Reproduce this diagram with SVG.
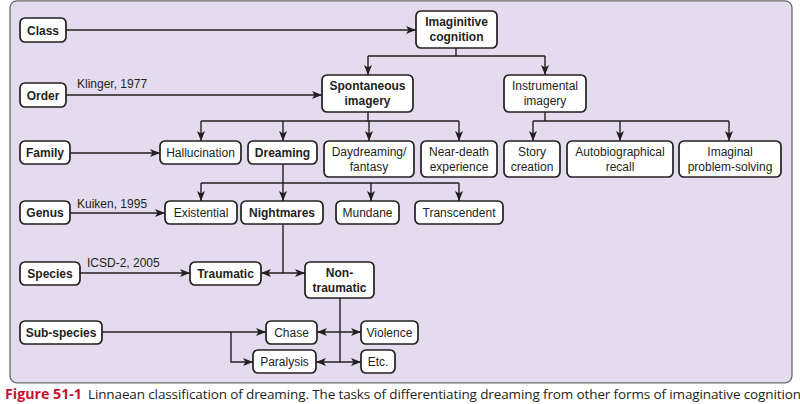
<svg xmlns="http://www.w3.org/2000/svg" width="800" height="404" viewBox="0 0 800 404">
<defs>
<marker id="ah" markerUnits="userSpaceOnUse" markerWidth="10" markerHeight="8" viewBox="0 0 10 8" refX="10" refY="4" orient="auto-start-reverse">
<path d="M0,0 L10,4 L0,8 L2.5,4 z" fill="#231f20"/>
</marker>
</defs>
<style>
.n rect{fill:#fff;stroke:#231f20;stroke-width:1.7}
text{font-family:"Liberation Sans",Arial,sans-serif;font-size:12px;fill:#231f20}
.n text{text-anchor:middle}
.b text{font-weight:bold}
.c path{fill:none;stroke:#231f20;stroke-width:1.4}
.a{marker-end:url(#ah)}
.d{marker-start:url(#ah);marker-end:url(#ah)}
.cap{font-family:"Open Sans","Noto Sans",sans-serif;font-size:13.5px}
</style>
<rect x="10" y="0.8" width="782" height="382" rx="7" fill="#e4dcee" stroke="#6b6b6b" stroke-width="1.3"/>

<g class="c" id="connectors">
<path class="a" d="M66,30 H416"/>
<path d="M456,48 V56 M368,56 H545"/>
<path class="a" d="M368,56 V75"/>
<path class="a" d="M545,56 V75"/>
<path class="a" d="M66,95 H322"/>
<path d="M368,112 V121 M201,121 H459"/>
<path class="a" d="M201,121 V141"/>
<path class="a" d="M283,121 V141"/>
<path class="a" d="M369,121 V141"/>
<path class="a" d="M459,121 V141"/>
<path d="M545,112 V121 M533,121 H729"/>
<path class="a" d="M533,121 V141"/>
<path class="a" d="M620,121 V141"/>
<path class="a" d="M729,121 V141"/>
<path class="a" d="M70,153 H160"/>
<path d="M201,183 H459"/>
<path class="a" d="M201,183 V201"/>
<path class="a" d="M283,164 V201"/>
<path class="a" d="M371,183 V201"/>
<path class="a" d="M459,183 V201"/>
<path class="a" d="M70,213 H165"/>
<path d="M283,224 V273"/>
<path class="d" d="M261,273 H305"/>
<path class="a" d="M80,273 H190"/>
<path d="M340,298 V362"/>
<path class="d" d="M317,332 H361"/>
<path class="d" d="M316,362 H361"/>
<path class="a" d="M102,332 H266"/>
<path class="a" d="M231,332 V362 H253"/>
</g>

<text x="77" y="88">Klinger, 1977</text>
<text x="77" y="208">Kuiken, 1995</text>
<text x="87" y="267">ICSD-2, 2005</text>

<g id="class" class="n b"><rect x="20" y="18" width="46" height="24" rx="5"/><text x="43" y="34.5">Class</text></g>
<g id="imaginitive" class="n b"><rect x="416" y="11" width="81" height="37" rx="5"/><text x="456.5" y="26">Imaginitive</text><text x="456.5" y="40.5">cognition</text></g>
<g id="order" class="n b"><rect x="20" y="83" width="46" height="24" rx="5"/><text x="43" y="99.5">Order</text></g>
<g id="spontaneous" class="n b"><rect x="322" y="75" width="91" height="37" rx="5"/><text x="367.5" y="90">Spontaneous</text><text x="367.5" y="104.5">imagery</text></g>
<g id="instrumental" class="n"><rect x="504" y="75" width="82" height="37" rx="5"/><text x="545" y="90">Instrumental</text><text x="545" y="104.5">imagery</text></g>

<g id="family" class="n b"><rect x="20" y="141" width="50" height="23" rx="5"/><text x="45" y="157">Family</text></g>
<g id="hallucination" class="n"><rect x="160" y="141" width="81" height="23" rx="5"/><text x="200.5" y="157">Hallucination</text></g>
<g id="dreaming" class="n b"><rect x="248" y="141" width="69" height="23" rx="5"/><text x="282.5" y="157">Dreaming</text></g>
<g id="daydreaming" class="n"><rect x="324" y="141" width="90" height="36" rx="5"/><text x="369" y="156">Daydreaming/</text><text x="369" y="170.5">fantasy</text></g>
<g id="neardeath" class="n"><rect x="421" y="141" width="76" height="36" rx="5"/><text x="459" y="156">Near-death</text><text x="459" y="170.5">experience</text></g>
<g id="story" class="n"><rect x="504" y="141" width="56" height="36" rx="5"/><text x="532" y="156">Story</text><text x="532" y="170.5">creation</text></g>
<g id="autobio" class="n"><rect x="567" y="141" width="106" height="36" rx="5"/><text x="620" y="156">Autobiographical</text><text x="620" y="170.5">recall</text></g>
<g id="imaginal" class="n"><rect x="679" y="141" width="102" height="36" rx="5"/><text x="730" y="156">Imaginal</text><text x="730" y="170.5">problem-solving</text></g>

<g id="genus" class="n b"><rect x="20" y="201" width="50" height="23" rx="5"/><text x="45" y="217">Genus</text></g>
<g id="existential" class="n"><rect x="165" y="201" width="72" height="23" rx="5"/><text x="201" y="217">Existential</text></g>
<g id="nightmares" class="n b"><rect x="241" y="201" width="82" height="23" rx="5"/><text x="282" y="217">Nightmares</text></g>
<g id="mundane" class="n"><rect x="336" y="201" width="63" height="23" rx="5"/><text x="367.5" y="217">Mundane</text></g>
<g id="transcendent" class="n"><rect x="415" y="201" width="88" height="23" rx="5"/><text x="459" y="217">Transcendent</text></g>

<g id="species" class="n b"><rect x="20" y="262" width="60" height="23" rx="5"/><text x="50" y="278">Species</text></g>
<g id="traumatic" class="n b"><rect x="190" y="262" width="71" height="23" rx="5"/><text x="225.5" y="278">Traumatic</text></g>
<g id="nontraumatic" class="n b"><rect x="305" y="262" width="69" height="36" rx="5"/><text x="339.5" y="277">Non-</text><text x="339.5" y="291.5">traumatic</text></g>

<g id="subspecies" class="n b"><rect x="20" y="321" width="82" height="23" rx="5"/><text x="61" y="337">Sub-species</text></g>
<g id="chase" class="n"><rect x="266" y="321" width="51" height="23" rx="5"/><text x="291.5" y="337">Chase</text></g>
<g id="violence" class="n"><rect x="361" y="321" width="57" height="23" rx="5"/><text x="389.5" y="337">Violence</text></g>
<g id="paralysis" class="n"><rect x="253" y="350" width="63" height="23" rx="5"/><text x="284.5" y="366">Paralysis</text></g>
<g id="etc" class="n"><rect x="361" y="350" width="34" height="23" rx="5"/><text x="378" y="366">Etc.</text></g>

<text class="cap" x="5" y="399" font-weight="bold" style="fill:#c8102e" textLength="77" lengthAdjust="spacingAndGlyphs">Figure 51-1</text>
<text class="cap" x="88" y="399" textLength="713" lengthAdjust="spacing">Linnaean classification of dreaming. The tasks of differentiating dreaming from other forms of imaginative cognition</text>
</svg>
